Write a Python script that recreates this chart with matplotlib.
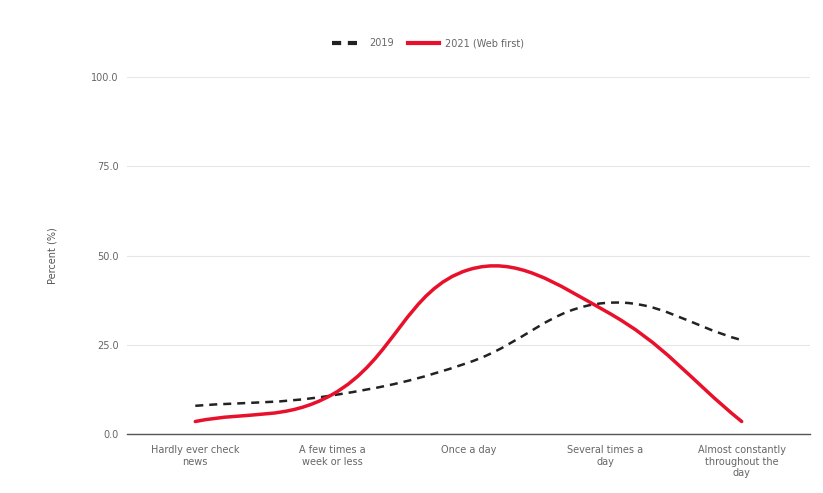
import numpy as np
import matplotlib.pyplot as plt
from matplotlib.path import Path
from matplotlib.patches import PathPatch
from matplotlib.lines import Line2D

categories = ['Hardly ever check\nnews', 'A few times a\nweek or less', 'Once a day',
              'Several times a\nday', 'Almost constantly\nthroughout the\nday']
values_2019 = [7.9, 10.8, 20.0, 36.7, 26.3]
values_2021 = [3.5, 11.0, 46.0, 34.5, 3.5]
y_ticks = [0, 25, 50, 75, 100]

# pixel-ish scale used for the spline tension (like chart.js)
SX, SY = 136.6, 3.57


def spline_path(xs, ys, t=0.4):
    pts = np.column_stack([np.asarray(xs, float) * SX, np.asarray(ys, float) * SY])
    n = len(pts)
    cp_prev, cp_next = [], []
    for i in range(n):
        p0 = pts[max(i - 1, 0)]
        p1 = pts[i]
        p2 = pts[min(i + 1, n - 1)]
        d01 = np.hypot(*(p1 - p0))
        d12 = np.hypot(*(p2 - p1))
        s01 = d01 / (d01 + d12) if d01 + d12 else 0
        s12 = d12 / (d01 + d12) if d01 + d12 else 0
        cp_prev.append(p1 - t * s01 * (p2 - p0))
        cp_next.append(p1 + t * s12 * (p2 - p0))
    verts = [pts[0]]
    codes = [Path.MOVETO]
    for i in range(n - 1):
        verts += [cp_next[i], cp_prev[i + 1], pts[i + 1]]
        codes += [Path.CURVE4] * 3
    verts = np.array(verts) / [SX, SY]
    return Path(verts, codes)


fig = plt.figure(figsize=(8.23, 4.93), dpi=100)
ax = fig.add_axes([127 / 823, 59 / 493, 683 / 823, 357 / 493])

x = np.arange(len(categories))
ax.add_patch(PathPatch(spline_path(x, values_2019), fill=False, edgecolor='#222222',
                       lw=1.8, linestyle=(0, (3.2, 2.4)), zorder=3))
ax.add_patch(PathPatch(spline_path(x, values_2021), fill=False, edgecolor='#e8102a',
                       lw=2.5, capstyle='round', zorder=4))

ax.set_xlim(-0.5, len(categories) - 0.5)
ax.set_ylim(0, 100)
ax.set_yticks(y_ticks)
ax.set_yticklabels([f'{v:.1f}' for v in y_ticks])
ax.set_xticks(x)
ax.set_xticklabels(categories)
ax.tick_params(axis='both', length=0, labelsize=7, colors='#666666')
ax.tick_params(axis='y', pad=6)
ax.tick_params(axis='x', pad=8)
ax.grid(axis='y', color='#e6e6e6', lw=0.8)
ax.set_axisbelow(True)
for s in ['top', 'right', 'left']:
    ax.spines[s].set_visible(False)
ax.spines['bottom'].set_color('#555555')
ax.spines['bottom'].set_linewidth(1.0)
ax.set_ylabel('Percent (%)', fontsize=7, color='#555555', labelpad=24)

handles = [Line2D([], [], color='#222222', lw=3, linestyle=(0, (2.2, 1.6))),
           Line2D([], [], color='#e8102a', lw=3)]
fig.legend(handles, ['2019', '2021 (Web first)'], loc='center', bbox_to_anchor=(0.52, 0.912),
           ncol=2, frameon=False, fontsize=7, labelcolor='#666666', handlelength=3.2,
           columnspacing=1.5, handletextpad=0.6)

fig.savefig('out.png', dpi=100, facecolor='white')
